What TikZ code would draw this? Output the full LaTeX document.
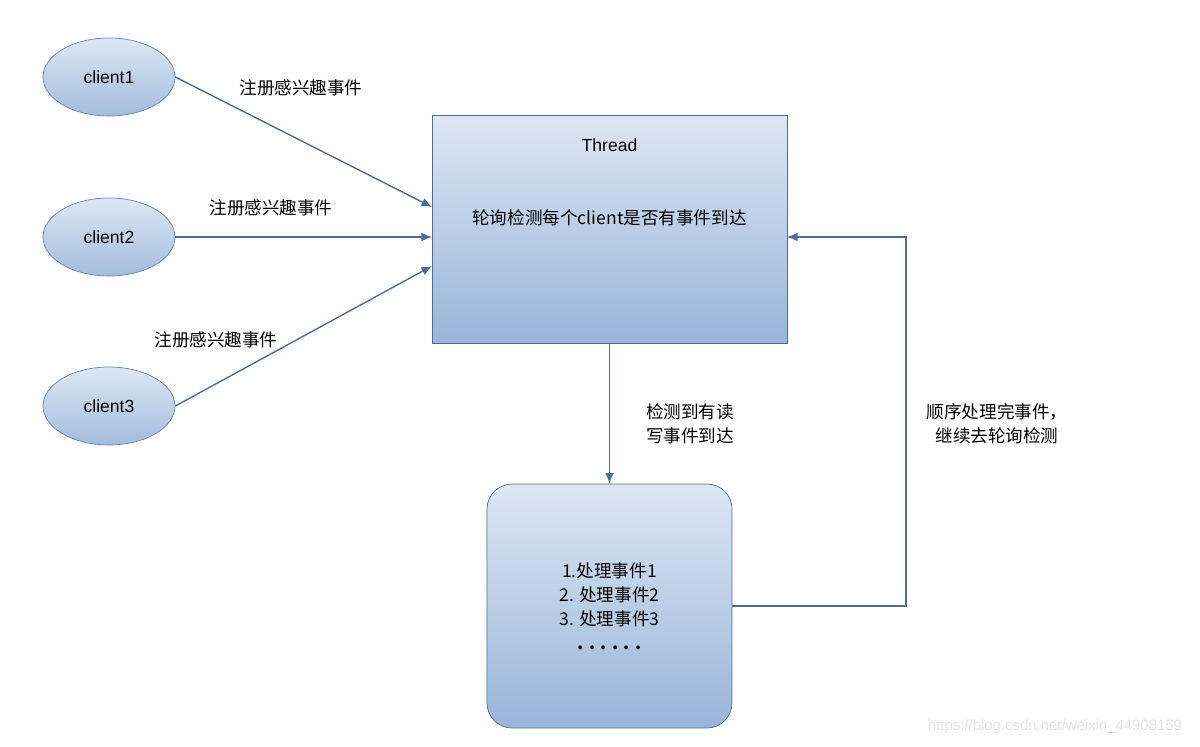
\documentclass[tikz,border=0pt]{standalone}
\usepackage{fontspec}
\setmainfont{Noto Sans CJK SC}
\newfontfamily\latin{Liberation Sans}
\usetikzlibrary{positioning, arrows.meta, shapes.geometric}
\definecolor{lineblue}{HTML}{4A6D9B}
\definecolor{filltop}{HTML}{DDE7F3}
\definecolor{fillbot}{HTML}{98B5D9}
\tikzset{
  client/.style={ellipse, minimum width=2.64cm, minimum height=1.56cm, draw=lineblue!85, top color=filltop, bottom color=fillbot!90, font=\latin\fontsize{10}{12}\selectfont},
  worker/.style={rectangle, minimum width=7.1cm, minimum height=4.56cm, draw=lineblue, top color=filltop, bottom color=fillbot},
  handler/.style={rectangle, rounded corners=0.5cm, minimum width=4.9cm, minimum height=4.88cm, draw=lineblue, top color=filltop, bottom color=fillbot, align=center, font=\fontsize{10}{13.6}\selectfont},
  lbl/.style={align=center, font=\fontsize{10}{13.6}\selectfont, inner sep=1pt},
  arrow/.style={draw=lineblue, thick, -{Latex[length=6pt,width=5pt]}}
}
\begin{document}
\begin{tikzpicture}[x=0.02cm, y=-0.02cm]
    \useasboundingbox (0,0) rectangle (1200,747);
    % clientes
    \node (c1) [client] at (109,77) {client1};
    \node (c2) [client] at (109,237) {client2};
    \node (c3) [client] at (109,406) {client3};
    % hilo de sondeo
    \node (thread) [worker] at (609.5,229) {};
    \node (ttitle) at (609.5,145) [font=\latin\fontsize{10}{12}\selectfont] {Thread};
    \node (ttext) at (609.5,218) [lbl] {轮询检测每个client是否有事件到达};
    % procesamiento
    \node (proc) [handler] at (609.5,606) {1.处理事件1\\2. 处理事件2\\3. 处理事件3\\\textbf{. . . . . .}};

    \coordinate (in1) at (432,207);
    \coordinate (in2) at (432,237);
    \coordinate (in3) at (432,266);
    \coordinate (turn) at (906,237);
    \coordinate (back) at (787,237);

    \draw [arrow] (c1.east) -- (in1);
    \draw [arrow] (c2.east) -- (in2);
    \draw [arrow] (c3.east) -- (in3);
    \draw [arrow] (thread.south) -- (proc.north);
    \draw [arrow] (proc.east) -| (turn) -- (back);

    \node (l1) at (301,88) [lbl] {注册感兴趣事件};
    \node (l2) at (271,208) [lbl] {注册感兴趣事件};
    \node (l3) at (216,340) [lbl] {注册感兴趣事件};
    \node (l4) at (690,424) [lbl] {检测到有读\\写事件到达};
    \node (l5) at (997,424) [lbl] {顺序处理完事件，\\继续去轮询检测};
    \node (wm) at (1055,727) [text=gray!22, font=\latin\fontsize{8.5}{10}\selectfont] {https://blog.csdn.net/weixin\_44908159};
\end{tikzpicture}
\end{document}
